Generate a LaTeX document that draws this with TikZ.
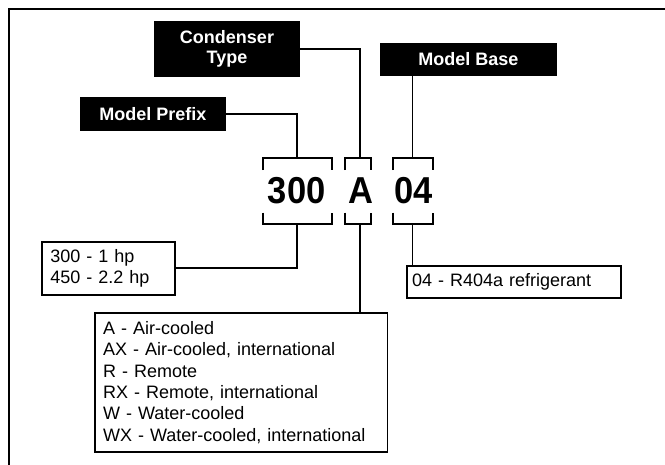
\documentclass[tikz,border=0pt]{standalone}
\usepackage{fontspec}
\setmainfont{Liberation Sans}
\newfontfamily\bigfont[FakeStretch=0.92]{Liberation Sans}
\begin{document}
\begin{tikzpicture}[x=1pt,y=-1pt,
  lw/.style={line width=1.8pt},
  hdr/.style={fill=black, text=white, font=\bfseries\fontsize{18}{20.6}\selectfont, align=center, inner sep=0pt},
  info/.style={draw=black, line width=1.8pt, font=\fontsize{18}{21.3}\selectfont, align=left, inner ysep=0pt},
  big/.style={font=\bigfont\bfseries\fontsize{37.5}{40}\selectfont, inner sep=0pt, anchor=base}
]
\useasboundingbox (0,0) rectangle (665,464);
\draw[line width=2pt] (666,8.7) -- (8.7,8.7) -- (8.7,466);

% header boxes
\node[hdr, minimum width=146pt, minimum height=56pt] (cond) at (227,49) {Condenser\\Type};
\node[hdr, minimum width=176.7pt, minimum height=33pt] (base) at (468.3,59.2) {Model Base};
\node[hdr, minimum width=145.7pt, minimum height=33.7pt] (pref) at (152.8,113.8) {Model Prefix};

% model number
\node[big] (n300) at (296.7,203.3) {300};
\node[big] (nA) at (360.8,203.3) {A};
\node[big] (n04) at (413.7,203.3) {04};

% bracket connection points
\coordinate (p300t) at (297,158);
\coordinate (p300b) at (297,224.3);
\coordinate (pAt) at (360,158);
\coordinate (pAb) at (360,224.3);
\coordinate (p04t) at (412.5,158);
\coordinate (p04b) at (412.5,224.3);

% brackets
\draw[lw] (262.7,170) |- (332,158) -- (332,170);
\draw[lw] (262.7,212.7) |- (332,224.3) -- (332,212.7);
\draw[lw] (345,170) |- (371,158) -- (371,170);
\draw[lw] (345,212.7) |- (371,224.3) -- (371,212.7);
\draw[lw] (392.7,170) |- (433.3,158) -- (433.3,170);
\draw[lw] (392.7,212.7) |- (433.3,224.3) -- (433.3,212.7);

% info boxes
\node[info, text width=116.7pt, inner xsep=8pt, minimum height=53.3pt] (hp) at (108.7,268.3) {300 - 1 hp\\450 - 2.2 hp};
\node[info, text width=203pt, inner xsep=5.5pt, minimum height=32pt] (ref) at (513.7,281.7) {04 - R404a refrigerant};
\node[info, text width=276.5pt, inner xsep=8pt, minimum height=138.4pt] (abox) at (241.3,382.5) {A - Air-cooled\\AX - Air-cooled, international\\R - Remote\\RX - Remote, international\\W - Water-cooled\\WX - Water-cooled, international};

% connectors
\draw[lw] (cond.east) -| (pAt);
\draw[lw] (pref.east) -| (p300t);
\draw[lw] (base.south -| p04t) -- (p04t);
\draw[lw] (p300b) |- (hp.east);
\draw[lw] (pAb) -- (pAb |- abox.north);
\draw[lw] (p04b) -- (p04b |- ref.north);
\end{tikzpicture}
\end{document}
